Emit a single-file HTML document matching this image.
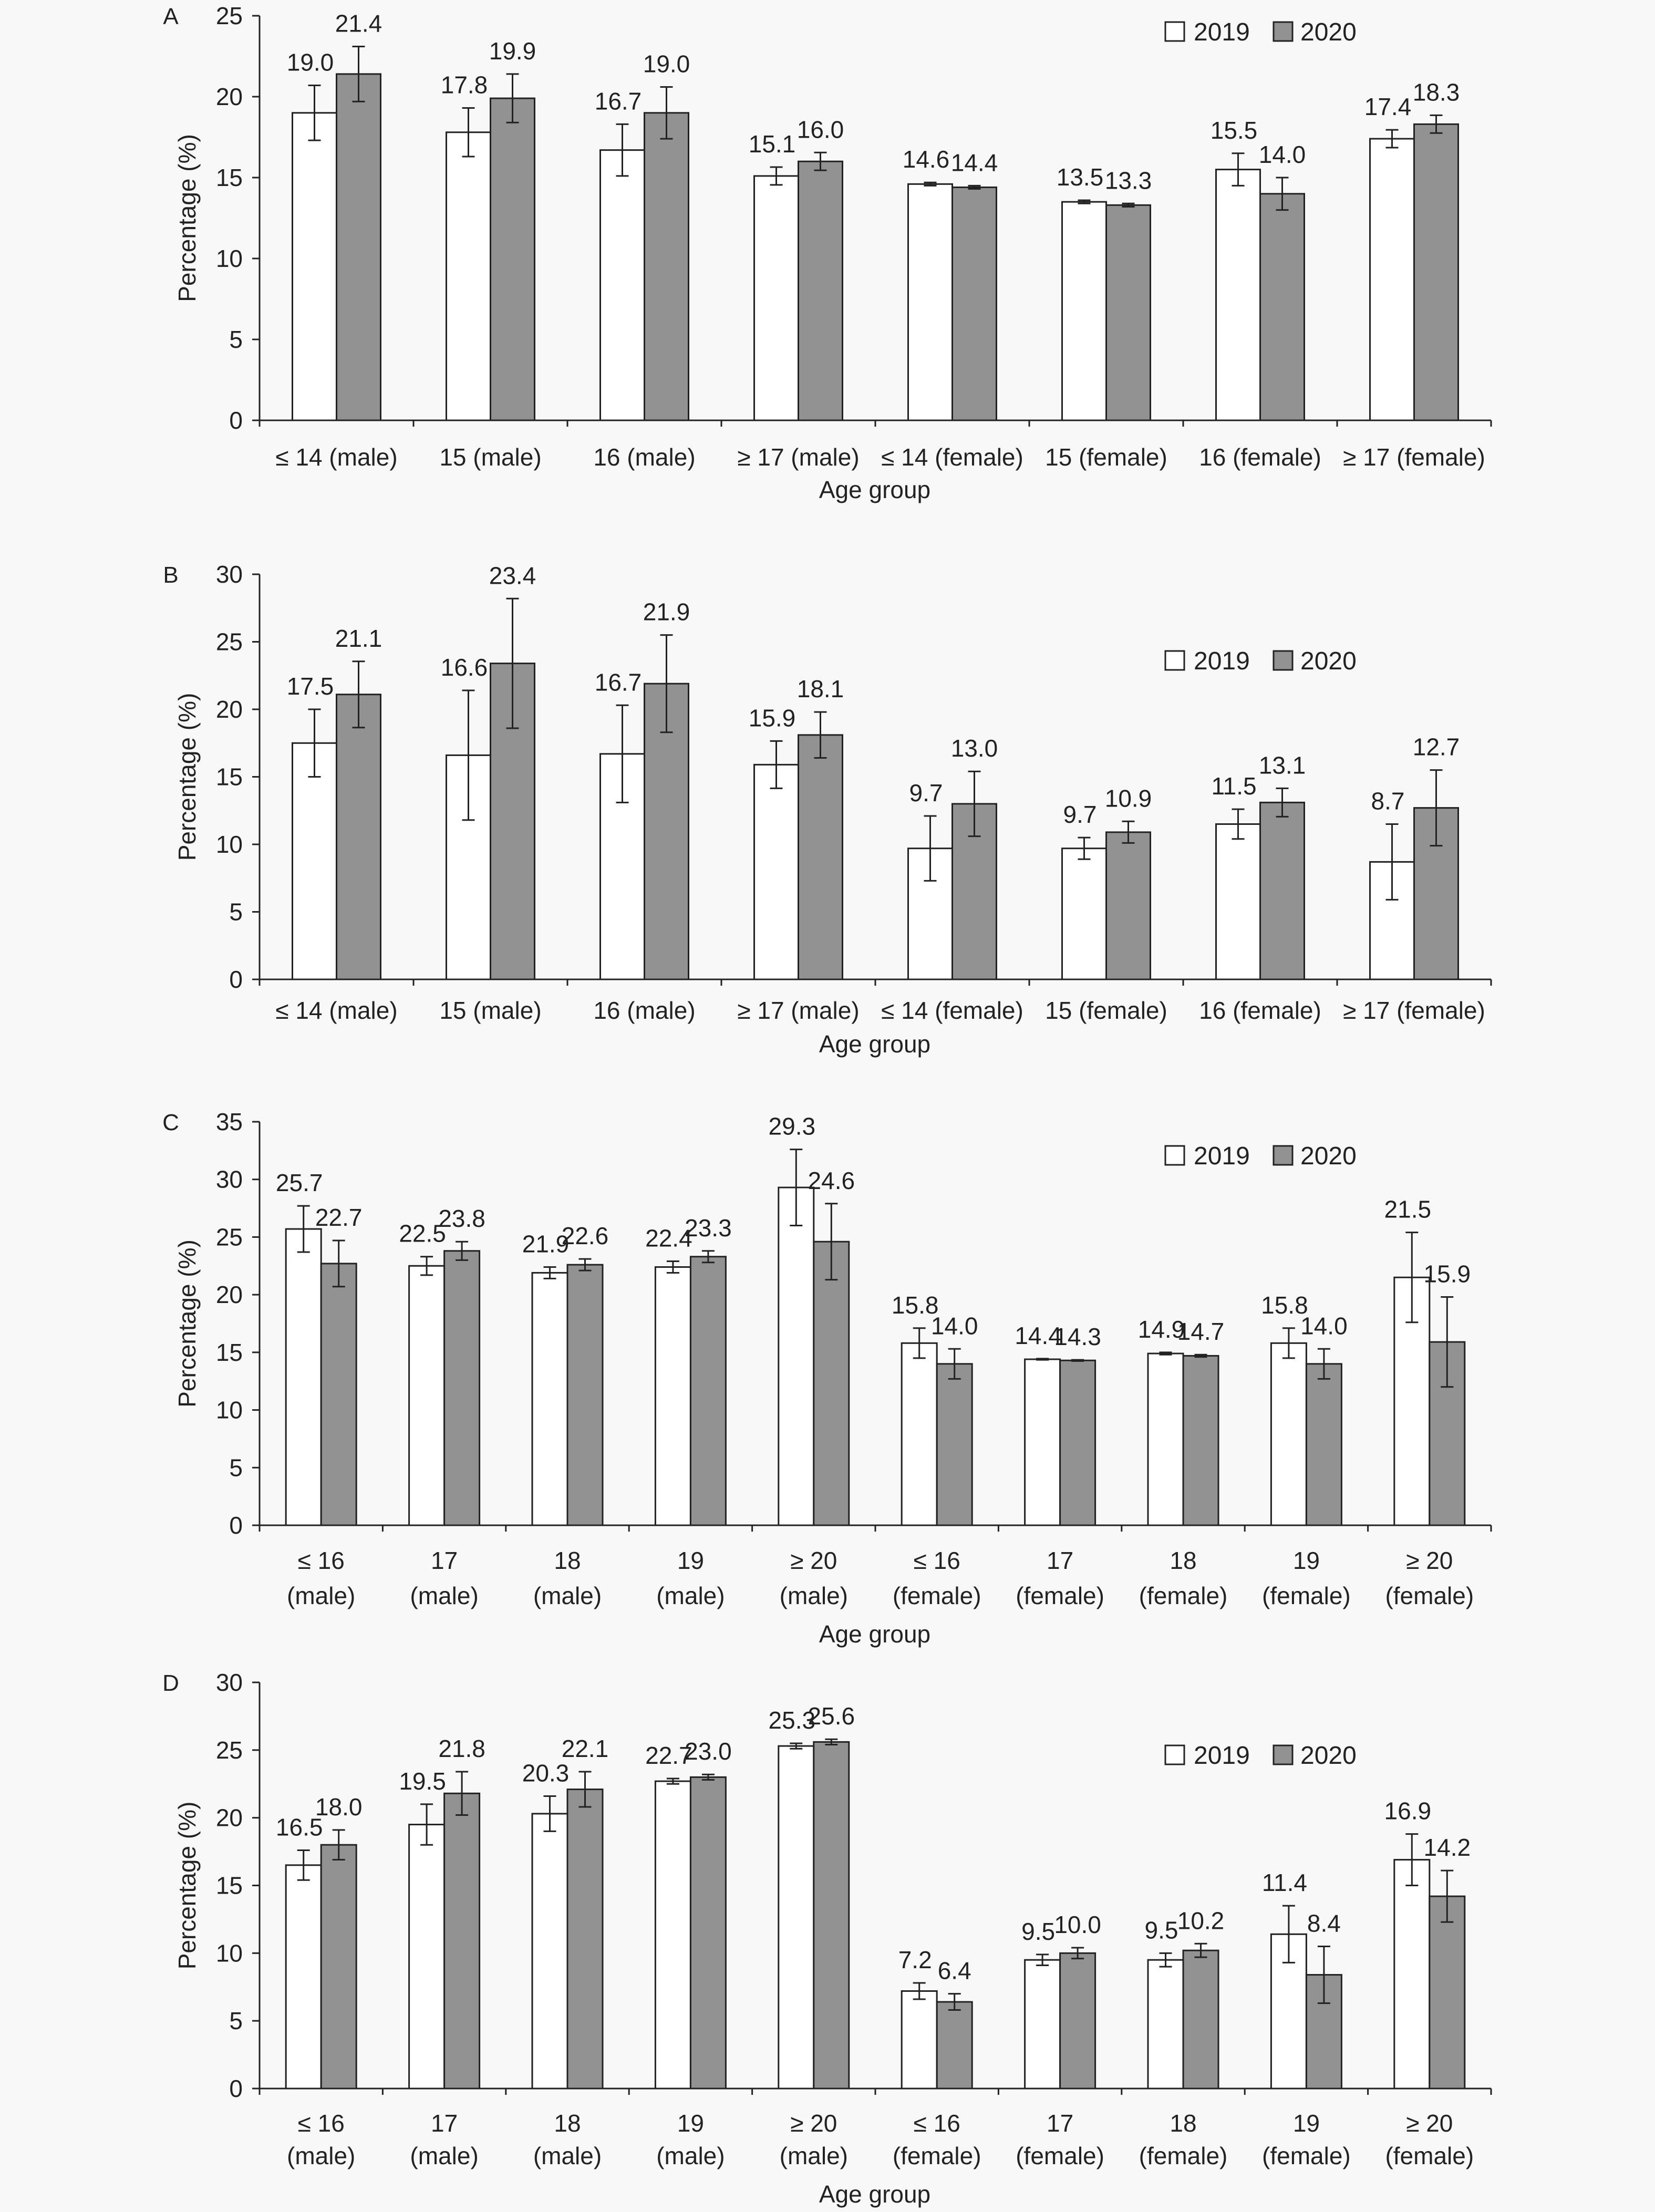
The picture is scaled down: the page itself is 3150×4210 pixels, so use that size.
<!DOCTYPE html>
<html><head><meta charset="utf-8">
<style>
html,body{margin:0;padding:0;background:#f8f8f8;}
svg{display:block;font-family:"Liberation Sans",sans-serif;}
</style></head>
<body>
<svg id="chart" xmlns="http://www.w3.org/2000/svg" width="3150" height="4210" viewBox="0 0 3150 4210">
<rect x="0" y="0" width="3150" height="4210" fill="#f8f8f8"/>
</svg>
<script>
// Panel A
const catsA = [["≤ 14 (male)"],["15 (male)"],["16 (male)"],["≥ 17 (male)"],["≤ 14 (female)"],["15 (female)"],["16 (female)"],["≥ 17 (female)"]];
const a2019 = [19.0,17.8,16.7,15.1,14.6,13.5,15.5,17.4];
const a2020 = [21.4,19.9,19.0,16.0,14.4,13.3,14.0,18.3];
const aErr2019 = [1.7,1.5,1.6,0.55,0.1,0.1,1.0,0.55];
const aErr2020 = [1.7,1.5,1.6,0.55,0.1,0.1,1.0,0.55];
const aTicks = [0,5,10,15,20,25];
// Panel B
const catsB = catsA;
const b2019 = [17.5,16.6,16.7,15.9,9.7,9.7,11.5,8.7];
const b2020 = [21.1,23.4,21.9,18.1,13.0,10.9,13.1,12.7];
const bErr2019 = [2.5,4.8,3.6,1.75,2.4,0.8,1.1,2.8];
const bErr2020 = [2.45,4.8,3.6,1.7,2.4,0.8,1.05,2.8];
const bTicks = [0,5,10,15,20,25,30];
// Panel C
const catsC = [["≤ 16","(male)"],["17","(male)"],["18","(male)"],["19","(male)"],["≥ 20","(male)"],["≤ 16","(female)"],["17","(female)"],["18","(female)"],["19","(female)"],["≥ 20","(female)"]];
const c2019 = [25.7,22.5,21.9,22.4,29.3,15.8,14.4,14.9,15.8,21.5];
const c2020 = [22.7,23.8,22.6,23.3,24.6,14.0,14.3,14.7,14.0,15.9];
const cErr2019 = [2.0,0.8,0.5,0.5,3.3,1.3,0.05,0.1,1.3,3.9];
const cErr2020 = [2.0,0.8,0.5,0.5,3.3,1.3,0.05,0.1,1.3,3.9];
const cTicks = [0,5,10,15,20,25,30,35];
// Panel D
const catsD = catsC;
const d2019 = [16.5,19.5,20.3,22.7,25.3,7.2,9.5,9.5,11.4,16.9];
const d2020 = [18.0,21.8,22.1,23.0,25.6,6.4,10.0,10.2,8.4,14.2];
const dErr2019 = [1.1,1.5,1.3,0.2,0.2,0.6,0.4,0.5,2.1,1.9];
const dErr2020 = [1.1,1.6,1.3,0.2,0.2,0.6,0.4,0.5,2.1,1.9];
const dTicks = [0,5,10,15,20,25,30];

const NS = "http://www.w3.org/2000/svg";
const svg = document.getElementById('chart');
function mk(tag, attrs, parent, text){
  const e = document.createElementNS(NS, tag);
  for (const k in attrs) e.setAttribute(k, attrs[k]);
  if (text !== undefined) e.textContent = text;
  (parent||svg).appendChild(e);
  return e;
}
const LEFT = 494, RIGHT = 2838, FS = 46;

function panel(cfg){
  const g = mk('g', {});
  
  
  const max = cfg.ticks[cfg.ticks.length-1];
  const yS = v => cfg.y0 - v/max*(cfg.y0-cfg.yTop);
  const n = cfg.cats.length;
  const cw = (RIGHT-LEFT)/n;
  const xC = i => LEFT + cw*(i+0.5);
  const bw = cfg.bw;

  const pl = mk('text', {x:325, y:cfg.yTop+16, 'font-size':44, 'text-anchor':'middle', fill:'#222'}, g, cfg.id);
  
  

  // y ticks
  cfg.ticks.forEach(t => {
    const y = yS(t);
    const tl = mk('line', {x1:LEFT-14, x2:LEFT, y1:y, y2:y, stroke:'#222', 'stroke-width':3}, g);
    
    
    const tx = mk('text', {x:462, y:y+16, 'font-size':FS, 'text-anchor':'end', fill:'#222'}, g, String(t));
    
    
  });
  const yt = mk('text', {x:0, y:0, 'font-size':FS, 'text-anchor':'middle', fill:'#222', transform:`translate(372,${(cfg.y0+cfg.yTop)/2}) rotate(-90)`}, g, 'Percentage (%)');
  
  

  // bars
  cfg.cats.forEach((c, i) => {
    const cx = xC(i);
    [[cfg.s1, cfg.e1, '#ffffff', -bw, 'bar-2019', -8],[cfg.s2, cfg.e2, '#929292', 0, 'bar-2020', 0]].forEach(([s, e, fill, off, nm, lo]) => {
      const v = s[i];
      const b = mk('rect', {x:cx+off, y:yS(v), width:bw, height:cfg.y0-yS(v), fill:fill, stroke:'#222', 'stroke-width':3}, g);
      
      
      const bc = cx + off + bw/2;
      const top = yS(v+e[i]), bot = yS(v-e[i]);
      const eb = mk('path', {d:`M${bc},${top}V${bot}M${bc-12},${top}H${bc+12}M${bc-12},${bot}H${bc+12}`, stroke:'#222', 'stroke-width':3, fill:'none'}, g);
      
      
      const lb = mk('text', {x:bc+lo, y:top-28, 'font-size':FS, 'text-anchor':'middle', fill:'#222'}, g, v.toFixed(1));
      
      
    });
    // category labels
    c.forEach((line, k) => {
      const t = mk('text', {x:cx, y:cfg.labY[k]+16, 'font-size':FS, 'text-anchor':'middle', fill:'#222'}, g, line);
      
      
    });
  });
  // axes
  const ya = mk('line', {x1:LEFT, x2:LEFT, y1:cfg.yTop, y2:cfg.y0+12, stroke:'#222', 'stroke-width':3}, g);
  
  
  const xa = mk('line', {x1:LEFT, x2:RIGHT, y1:cfg.y0, y2:cfg.y0, stroke:'#222', 'stroke-width':3}, g);
  
  
  for (let i=1;i<=n;i++){
    const x = LEFT + cw*i;
    const t = mk('line', {x1:x, x2:x, y1:cfg.y0, y2:cfg.y0+12, stroke:'#222', 'stroke-width':3}, g);
    
    
  }
  const xt = mk('text', {x:1665, y:cfg.titleY+16, 'font-size':FS, 'text-anchor':'middle', fill:'#222'}, g, 'Age group');
  
  

  // legend
  const lg = mk('g', {}, g);
  
  
  const ly = cfg.legY;
  const b1 = mk('rect', {x:2218, y:ly-18, width:36, height:36, fill:'#fff', stroke:'#222', 'stroke-width':3}, lg);
  
  
  const t1 = mk('text', {x:2272, y:ly+17, 'font-size':48, fill:'#222'}, lg, '2019');
  
  
  const b2 = mk('rect', {x:2424, y:ly-18, width:36, height:36, fill:'#929292', stroke:'#222', 'stroke-width':3}, lg);
  
  
  const t2 = mk('text', {x:2475, y:ly+17, 'font-size':48, fill:'#222'}, lg, '2020');
  
  
}

panel({id:'A', cats:catsA, s1:a2019, s2:a2020, e1:aErr2019, e2:aErr2020, ticks:aTicks, y0:800, yTop:30, bw:84, labY:[870], titleY:932, legY:60});
panel({id:'B', cats:catsB, s1:b2019, s2:b2020, e1:bErr2019, e2:bErr2020, ticks:bTicks, y0:1864, yTop:1093, bw:84, labY:[1923], titleY:1987, legY:1257});
panel({id:'C', cats:catsC, s1:c2019, s2:c2020, e1:cErr2019, e2:cErr2020, ticks:cTicks, y0:2903, yTop:2135, bw:67, labY:[2970,3037], titleY:3110, legY:2199});
panel({id:'D', cats:catsD, s1:d2019, s2:d2020, e1:dErr2019, e2:dErr2020, ticks:dTicks, y0:3975, yTop:3202, bw:67, labY:[4041,4103], titleY:4176, legY:3340});
</script>
</body></html>
